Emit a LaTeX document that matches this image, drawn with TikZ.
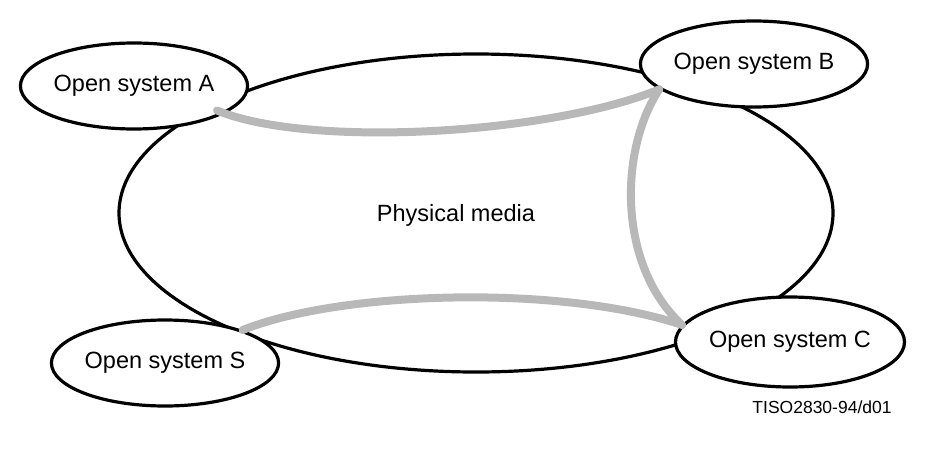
\documentclass[tikz,border=0pt]{standalone}
\usepackage{fontspec}
\setmainfont{Liberation Sans}
\usetikzlibrary{shapes.geometric}
\begin{document}
\begin{tikzpicture}[x=1pt,y=-1pt,
  outline/.style={draw=black,line width=3.2pt},
  sysnode/.style={outline,ellipse,fill=white,inner sep=0pt,minimum width=210pt,minimum height=86pt,
    font=\fontsize{23.5}{27}\selectfont},
  link/.style={draw=black!28,line width=8pt,line cap=round}]
\useasboundingbox (0,0) rectangle (950,458);
\node[outline,ellipse,minimum width=714pt,minimum height=318pt,inner sep=0pt] (pm) at (476,213) {};
\node[font=\fontsize{23.5}{27}\selectfont] (pmlabel) at (456,215) {Physical media};
\node[sysnode] (A) at (134,86) {Open system A};
\node[sysnode] (B) at (754,64) {Open system B};
\node[sysnode] (S) at (165,363) {Open system S};
\node[sysnode,minimum height=90pt] (C) at (790,342) {Open system C};
\draw[link] ([xshift=-18pt,yshift=-3pt]A.-12) .. controls +(92,38) and +(-110,45) .. (B.195);
\draw[link] (B.195) .. controls +(-40,60) and +(-65,-60) .. (C.171);
\draw[link] (S.23) .. controls +(100,-40) and +(-120,-40) .. (C.171);
\node[font=\fontsize{17.5}{20}\selectfont] (ref) at (822,407) {TISO2830-94/d01};
\end{tikzpicture}
\end{document}
